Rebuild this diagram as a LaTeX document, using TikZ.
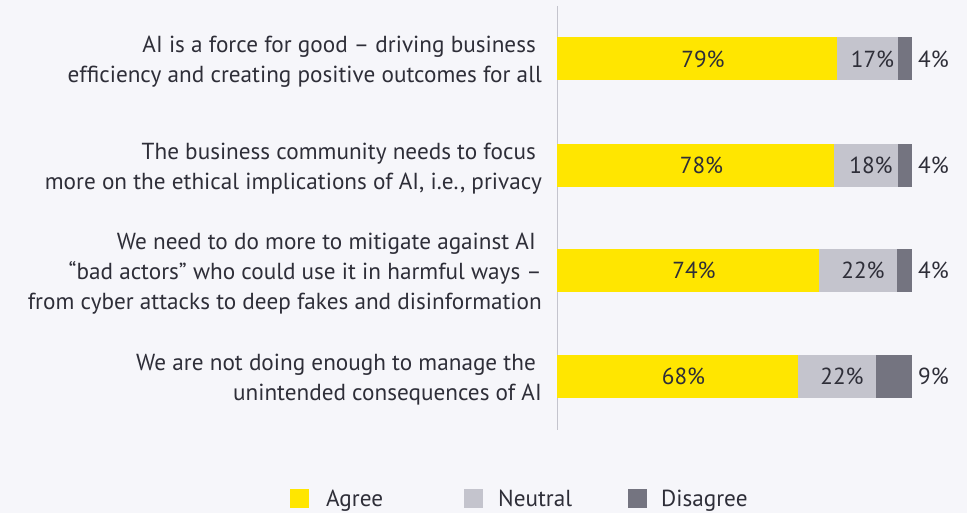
\documentclass[tikz,border=0pt]{standalone}
\usepackage{fontspec}
\setmainfont{PT Sans}
\definecolor{bg}{HTML}{F6F6FA}
\definecolor{eyyellow}{HTML}{FFE600}
\definecolor{neutralc}{HTML}{C4C4CD}
\definecolor{disc}{HTML}{747480}
\definecolor{txt}{HTML}{2E2E38}
\begin{document}
\begin{tikzpicture}[x=1pt,y=-1pt,
  every node/.style={text=txt,font=\fontsize{23.2}{30}\selectfont},
  seg/.style={draw=none,inner sep=0pt,outer sep=0pt,minimum height=43pt,anchor=west},
  agree/.style={seg,fill=eyyellow},
  neutral/.style={seg,fill=neutralc},
  disagree/.style={seg,fill=disc},
  lbl/.style={anchor=east,align=right,inner sep=0pt},
  outlbl/.style={anchor=west,inner sep=0pt},
  legsq/.style={fill=#1,draw=none,minimum width=19pt,minimum height=19pt,inner sep=0pt,anchor=north west},
  legtxt/.style={anchor=base west,inner sep=0pt}]
\useasboundingbox[fill=bg] (0,0) rectangle (967,513);
% axis
\coordinate (axtop) at (557,6);
\coordinate (axbot) at (557,430);
\draw[neutralc,line width=1pt] (axtop) -- (axbot);
% row 1
\node[lbl] (l1) at (542,62) {AI is a force for good – driving business\hspace*{6pt}\\efficiency and creating positive outcomes for all};
\node[agree,minimum width=280pt] (a1) at (557,59) {\hspace*{12pt}79\%};
\node[neutral,minimum width=61pt] (n1) at (a1.east) {\hspace*{10pt}17\%};
\node[disagree,minimum width=14pt] (d1) at (n1.east) {};
\node[outlbl] (o1) at (918,59) {4\%};
% row 2
\node[lbl] (l2) at (542,168.5) {The business community needs to focus\hspace*{6pt}\\more on the ethical implications of AI, i.e., privacy};
\node[agree,minimum width=277pt] (a2) at (557,165.5) {\hspace*{12pt}78\%};
\node[neutral,minimum width=64pt] (n2) at (a2.east) {\hspace*{10pt}18\%};
\node[disagree,minimum width=14pt] (d2) at (n2.east) {};
\node[outlbl] (o2) at (918,165.5) {4\%};
% row 3
\node[lbl] (l3) at (542,273.5) {We need to do more to mitigate against AI\hspace*{6pt}\\“bad actors” who could use it in harmful ways –\hspace*{6pt}\\from cyber attacks to deep fakes and disinformation};
\node[agree,minimum width=262pt] (a3) at (557,270.5) {\hspace*{12pt}74\%};
\node[neutral,minimum width=78pt] (n3) at (a3.east) {\hspace*{10pt}22\%};
\node[disagree,minimum width=15pt] (d3) at (n3.east) {};
\node[outlbl] (o3) at (918,270.5) {4\%};
% row 4
\node[lbl] (l4) at (542,379.5) {We are not doing enough to manage the\hspace*{6pt}\\unintended consequences of AI};
\node[agree,minimum width=241pt] (a4) at (557,376.5) {\hspace*{12pt}68\%};
\node[neutral,minimum width=78pt] (n4) at (a4.east) {\hspace*{10pt}22\%};
\node[disagree,minimum width=36pt] (d4) at (n4.east) {};
\node[outlbl] (o4) at (918,376.5) {9\%};
% legend
\node[legsq=eyyellow] (k1) at (290,489) {};
\node[legtxt] (t1) at (326,506) {Agree};
\node[legsq=neutralc] (k2) at (464,489) {};
\node[legtxt] (t2) at (498,506) {Neutral};
\node[legsq=disc] (k3) at (628,489) {};
\node[legtxt] (t3) at (661,506) {Disagree};
\end{tikzpicture}
\end{document}
